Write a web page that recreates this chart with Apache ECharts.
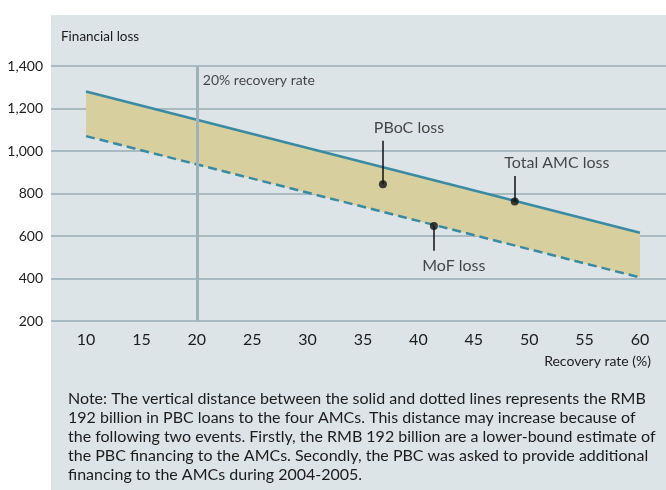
<!DOCTYPE html>
<html>
<head>
<meta charset="utf-8">
<script src="https://cdn.jsdelivr.net/npm/echarts@6/dist/echarts.min.js"></script>
<style>
  html, body { margin: 0; padding: 0; background: #fff; }
  #chart { width: 666px; height: 490px; }
</style>
</head>
<body>
<div id="chart"></div>
<script>
// recovery rate (%) at the two ends of each line
var recovery = [10, 60];
// total AMC loss (solid) and MoF loss (dashed)
var totalLoss = [1280, 615];
var mofLoss = [1070, 405];
// x axis tick labels
var xTicks = [10, 15, 20, 25, 30, 35, 40, 45, 50, 55, 60];
// annotations: name, dot [x, y], end of pin, label position
var notes = [
    {name: 'PBoC loss', x: 36.8, y: 843, pin: 1048, lx: 39.15, ly: 1107},
    {name: 'Total AMC loss', x: 48.7, y: 762, pin: 882, lx: 52.5, ly: 943},
    {name: 'MoF loss', x: 41.4, y: 647, pin: 531, lx: 43.2, ly: 460}
];
var markRate = 20;

var noteText = [
    'Note: The vertical distance between the solid and dotted lines represents the RMB',
    '192 billion in PBC loans to the four AMCs. This distance may increase because of',
    'the following two events. Firstly, the RMB 192 billion are a lower-bound estimate of',
    'the PBC financing to the AMCs. Secondly, the PBC was asked to provide additional',
    'financing to the AMCs during 2004-2005.'
].join('\n');

var FONT = 'Lato';
var TEAL = '#3a8aa2';
var GRID = '#a9bac1';
var INK = '#1c1c1c';

var chart = echarts.init(document.getElementById('chart'));

var lowerData = recovery.map(function (r, i) { return [r, mofLoss[i]]; });
var totalData = recovery.map(function (r, i) { return [r, totalLoss[i]]; });

var option = {
    animation: false,
    textStyle: {fontFamily: FONT},
    graphic: [
        {type: 'rect', z: -10, shape: {x: 51, y: 15, width: 615, height: 475},
         style: {fill: '#dce4e7'}},
        {type: 'text', left: 61, top: 30,
         style: {text: 'Financial loss', font: '13.5px ' + FONT, fill: INK}},
        {type: 'text', right: 15, top: 354,
         style: {text: 'Recovery rate (%)', font: '14px ' + FONT, fill: INK}},
        {type: 'text', left: 68, top: 389,
         style: {text: noteText, font: '16px ' + FONT, fill: INK, lineHeight: 19}}
    ],
    grid: {left: 51, right: 0, top: 66, bottom: 169},
    xAxis: {
        type: 'value',
        min: 6.84,
        max: 62.35,
        axisLine: {show: false},
        axisTick: {show: false},
        splitLine: {show: false},
        axisLabel: {customValues: xTicks, fontSize: 16, color: INK, margin: 11}
    },
    yAxis: {
        type: 'value',
        min: 200,
        max: 1400,
        interval: 200,
        axisLine: {show: false},
        axisTick: {show: false},
        splitLine: {lineStyle: {color: GRID, width: 2}},
        axisLabel: {fontSize: 14, color: INK, margin: 8,
            formatter: function (v) { return v.toLocaleString('en-US'); }}
    },
    series: [
        {
            // band between total and MoF loss
            type: 'custom', z: 2, silent: true,
            data: [0],
            renderItem: function (params, api) {
                var pts = [];
                recovery.forEach(function (r, i) { pts.push(api.coord([r, totalLoss[i]])); });
                for (var i = recovery.length - 1; i >= 0; i--) {
                    pts.push(api.coord([recovery[i], mofLoss[i]]));
                }
                return {type: 'polygon', shape: {points: pts}, style: {fill: '#d8cf9f'}};
            }
        },
        {
            type: 'line', data: totalData, symbol: 'none', z: 3,
            lineStyle: {color: TEAL, width: 2.5}
        },
        {
            type: 'line', data: lowerData, symbol: 'none', z: 3,
            lineStyle: {color: TEAL, width: 2.5, type: [9, 5]}
        },
        {
            // 20% recovery rate line
            type: 'line', data: [], z: 4,
            markLine: {
                silent: true, symbol: 'none', label: {show: false},
                lineStyle: {color: '#9fb2b9', width: 3, type: 'solid'},
                data: [[{coord: [markRate, 200]}, {coord: [markRate, 1400]}]]
            }
        },
        {
            // pins
            type: 'line', data: [], z: 5,
            markLine: {
                silent: true, symbol: 'none', label: {show: false},
                lineStyle: {color: '#111', width: 1.5, type: 'solid'},
                data: notes.map(function (n) {
                    return [{coord: [n.x, n.y]}, {coord: [n.x, n.pin]}];
                })
            }
        },
        {
            // dots
            type: 'scatter', z: 6, symbolSize: 8,
            itemStyle: {color: '#111'},
            data: notes.map(function (n) { return [n.x, n.y]; })
        },
        {
            // text labels
            type: 'scatter', z: 6, symbolSize: 0,
            label: {
                show: true, position: 'inside', fontSize: 16, color: INK,
                formatter: function (p) { return p.data.name; }
            },
            data: notes.map(function (n) { return {name: n.name, value: [n.lx, n.ly]}; })
        },
        {
            type: 'scatter', z: 6, symbolSize: 0,
            label: {show: true, position: 'right', distance: 6, fontSize: 14, color: INK,
                formatter: '20% recovery rate'},
            data: [[markRate, 1334]]
        }
    ]
};
chart.setOption(option);
</script>
</body>
</html>
